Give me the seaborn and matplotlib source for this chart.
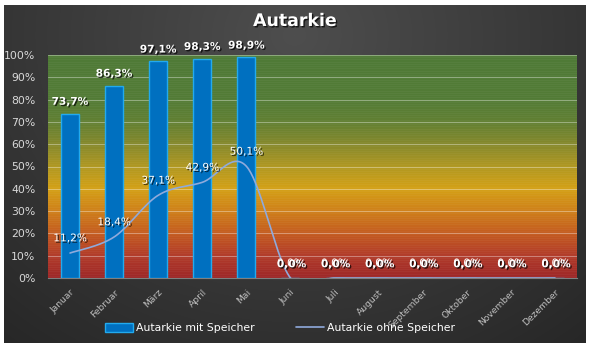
import numpy as np
import pandas as pd
import matplotlib
matplotlib.use("Agg")
import matplotlib.pyplot as plt
import matplotlib.patheffects as pe
from matplotlib.colors import LinearSegmentedColormap
from matplotlib.patches import Patch
from matplotlib.lines import Line2D
import seaborn as sns

# --- data -----------------------------------------------------------------
months = ["Januar", "Februar", "März", "April", "Mai", "Juni", "Juli",
          "August", "September", "Oktober", "November", "Dezember"]
mit_speicher = [73.7, 86.3, 97.1, 98.3, 98.9, 0.0, 0.0, 0.0, 0.0, 0.0, 0.0, 0.0]
ohne_speicher = [11.2, 18.4, 37.1, 42.9, 50.1, 0.0, 0.0, 0.0, 0.0, 0.0, 0.0, 0.0]
y_ticks = [0, 10, 20, 30, 40, 50, 60, 70, 80, 90, 100]
series_names = ["Autarkie mit Speicher", "Autarkie ohne Speicher"]
title = "Autarkie"

BAR_COLOR = "#0070C0"
BAR_EDGE = "#22AAEE"
LINE_COLOR = "#8FAADC"

sns.set_theme(style="white")
plt.rcParams["font.family"] = ["DejaVu Sans"]

W, H = 591, 348
fig = plt.figure(figsize=(W / 100, H / 100), dpi=100)
fig.patch.set_facecolor("white")

# dark panel with a soft radial highlight
bg = fig.add_axes([4 / W, 5 / H, 582 / W, 338 / H])
bg.axis("off")
yy, xx = np.mgrid[0:338, 0:582]
r = np.hypot((xx - 290) / 1.15, (yy - 30))
t = np.clip(r / 430, 0, 1)[..., None]
light = np.array([0x4E, 0x4E, 0x4E]) / 255
dark = np.array([0x24, 0x24, 0x24]) / 255
bg.imshow(light * (1 - t) + dark * t, aspect="auto", extent=[0, 1, 0, 1])
bg.set_xlim(0, 1)
bg.set_ylim(0, 1)

# plot area
ax = fig.add_axes([48 / W, 70 / H, 529 / W, 223 / H])
traffic = LinearSegmentedColormap.from_list("traffic", [
    (0.00, "#9E2828"), (0.10, "#B23C2A"), (0.20, "#C45C20"),
    (0.30, "#CF801A"), (0.40, "#D4A116"), (0.50, "#B09822"),
    (0.60, "#86892C"), (0.70, "#628033"), (0.80, "#537C36"),
    (1.00, "#4F7A37")])
ax.imshow(np.linspace(0, 1, 256)[:, None], cmap=traffic, origin="lower",
          extent=[-0.5, 11.5, 0, 100], aspect="auto", zorder=0)
# fine stripes and major gridlines
for v in np.arange(1, 100, 1.0):
    ax.axhline(v, color="white", alpha=0.05, lw=0.5, zorder=1)
for v in y_ticks[1:]:
    ax.axhline(v, color="white", alpha=0.35, lw=0.8, zorder=1)

df = pd.DataFrame({"Monat": months, "Wert": mit_speicher})
sns.barplot(data=df, x="Monat", y="Wert", color=BAR_COLOR, saturation=1,
            edgecolor=BAR_EDGE, linewidth=1, width=0.41, ax=ax, zorder=3)


def smooth(xv, yv, n=40):
    """Bezier smoothing of a polyline (control points from neighbouring points)."""
    xv = np.asarray(xv, float)
    yv = np.asarray(yv, float)
    px = np.concatenate([[xv[0]], xv, [xv[-1]]])
    py = np.concatenate([[yv[0]], yv, [yv[-1]]])
    sx, sy = [], []
    s = np.linspace(0, 1, n)
    for i in range(1, len(px) - 2):
        p0 = np.array([px[i], py[i]])
        p3 = np.array([px[i + 1], py[i + 1]])
        c1 = p0 + (np.array([px[i + 1], py[i + 1]]) - np.array([px[i - 1], py[i - 1]])) / 6
        c2 = p3 - (np.array([px[i + 2], py[i + 2]]) - p0) / 6
        b = ((1 - s) ** 3)[:, None] * p0 + (3 * (1 - s) ** 2 * s)[:, None] * c1 \
            + (3 * (1 - s) * s ** 2)[:, None] * c2 + (s ** 3)[:, None] * p3
        sx.extend(b[:, 0])
        sy.extend(b[:, 1])
    return np.array(sx), np.array(sy)


lx, ly = smooth(range(len(months)), ohne_speicher)
line_df = pd.DataFrame({"x": lx, "y": ly})
sns.lineplot(data=line_df, x="x", y="y", sort=False, estimator=None,
             color=LINE_COLOR, lw=1.2, ax=ax, zorder=4)

ax.set_xlim(-0.5, 11.5)
ax.set_ylim(0, 100)
ax.set_xlabel("")
ax.set_ylabel("")
ax.set_yticks(y_ticks)
ax.set_yticklabels([f"{v}%" for v in y_ticks], color="#D9D9D9", fontsize=7.8)
ax.set_xticks(range(len(months)))
ax.set_xticklabels(months, rotation=45, ha="right", va="top",
                   rotation_mode="anchor", color="#BFBFBF", fontsize=6.6)
ax.tick_params(axis="both", length=0)
ax.tick_params(axis="x", pad=7)
ax.tick_params(axis="y", pad=9)
for side in ["top", "left", "right"]:
    ax.spines[side].set_visible(False)
ax.spines["bottom"].set_color("#7F7F7F")
ax.spines["bottom"].set_linewidth(0.8)

shadow = [pe.withSimplePatchShadow(offset=(1, -1), shadow_rgbFace="black", alpha=0.7)]


def fmt(v):
    return f"{v:.1f}%".replace(".", ",")


for i, v in enumerate(ohne_speicher):
    ax.annotate(fmt(v), (i, v), xytext=(0, 7), textcoords="offset points",
                ha="center", va="bottom", color="white", fontsize=7.6,
                path_effects=shadow, zorder=6)
for i, v in enumerate(mit_speicher):
    off = (0, 5) if v > 0 else (0.8, 6.3)
    ax.annotate(fmt(v), (i, v), xytext=off, textcoords="offset points",
                ha="center", va="bottom", color="white", fontsize=7.6,
                fontweight="bold", path_effects=shadow, zorder=6)

handles = [Patch(facecolor=BAR_COLOR, edgecolor=BAR_EDGE, label=series_names[0]),
           Line2D([], [], color=LINE_COLOR, lw=1.2, label=series_names[1])]
fig.legend(handles=handles, loc="center", bbox_to_anchor=(280 / W, 1 - 328 / H),
           ncol=2, frameon=False, labelcolor="white", fontsize=7.8,
           handlelength=2.6, handleheight=0.9, handletextpad=0.3,
           columnspacing=3.8)

fig.text(295 / W, 1 - 21 / H, title, ha="center", va="center", fontsize=12.5,
         fontweight="bold", color="white", path_effects=shadow)

fig.savefig("out.png", dpi=100)
